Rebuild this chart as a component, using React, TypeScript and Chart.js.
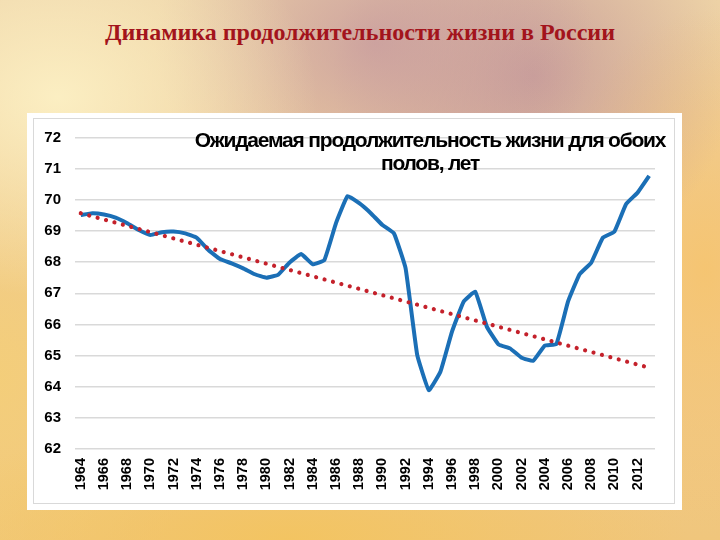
import React, { useEffect, useRef } from "react";
import { Chart, registerables } from "chart.js";

Chart.register(...registerables);

const pageTitle = "Динамика продолжительности жизни в России";
const chartTitleLines = ["Ожидаемая продолжительность жизни для обоих", "полов, лет"];

const years = [
  "1964", "1965", "1966", "1967", "1968", "1969", "1970", "1971", "1972", "1973",
  "1974", "1975", "1976", "1977", "1978", "1979", "1980", "1981", "1982", "1983",
  "1984", "1985", "1986", "1987", "1988", "1989", "1990", "1991", "1992", "1993",
  "1994", "1995", "1996", "1997", "1998", "1999", "2000", "2001", "2002", "2003",
  "2004", "2005", "2006", "2007", "2008", "2009", "2010", "2011", "2012", "2013",
];

const lifeExpectancy = [
  69.51, 69.57, 69.53, 69.43, 69.25, 69.03, 68.87, 68.96, 68.98, 68.92,
  68.78, 68.39, 68.10, 67.96, 67.80, 67.61, 67.50, 67.59, 67.99, 68.26,
  67.93, 68.07, 69.25, 70.12, 69.89, 69.57, 69.19, 68.92, 67.80, 65.02,
  63.89, 64.48, 65.77, 66.73, 67.05, 65.93, 65.36, 65.23, 64.93, 64.83,
  65.32, 65.37, 66.73, 67.61, 67.98, 68.78, 68.98, 69.86, 70.23, 70.77,
];

// Linear trend line endpoints
const trendYears = ["1964", "2013"];
const trendValues = [69.57, 64.61];

const yMin = 62;
const yMax = 72;

const overlayTitlePlugin = {
  id: "overlayTitle",
  afterDraw(chart: any) {
    const ctx = chart.ctx as CanvasRenderingContext2D;
    ctx.save();
    ctx.fillStyle = "#000000";
    ctx.textAlign = "center";
    ctx.textBaseline = "alphabetic";
    ctx.font = "bold 21px 'Liberation Sans', Arial, sans-serif";
    try {
      (ctx as any).letterSpacing = "-1.2px";
    } catch (e) {}
    const cx = 430;
    ctx.fillText(chartTitleLines[0], cx, 147);
    ctx.fillText(chartTitleLines[1], cx, 170);
    ctx.restore();
  },
};

export default function App() {
  const canvasRef = useRef<HTMLCanvasElement | null>(null);

  useEffect(() => {
    if (!canvasRef.current) return;
    const chart = new Chart(canvasRef.current, {
      type: "line",
      data: {
        labels: years,
        datasets: [
          {
            label: "Тренд",
            data: trendYears.map((y, i) => ({ x: y, y: trendValues[i] })),
            borderColor: "#C4212B",
            borderWidth: 4.2,
            borderDash: [0.01, 8.7],
            borderCapStyle: "round",
            pointRadius: 0,
            fill: false,
            order: 0,
          },
          {
            label: "Ожидаемая продолжительность жизни",
            data: lifeExpectancy,
            borderColor: "#1B6FB6",
            borderWidth: 4,
            pointRadius: 0,
            tension: 0.1,
            fill: false,
            order: 1,
          },
        ],
      },
      options: {
        animation: false,
        responsive: false,
        maintainAspectRatio: false,
        layout: {
          padding: { left: 33, right: 65, top: 137.5, bottom: 37 },
        },
        plugins: {
          legend: { display: false },
          title: { display: false },
          tooltip: { enabled: false },
        },
        scales: {
          x: {
            type: "category",
            offset: true,
            grid: { display: false, drawTicks: false },
            border: { display: false },
            ticks: {
              autoSkip: false,
              minRotation: 90,
              maxRotation: 90,
              padding: 9,
              color: "#000000",
              font: { family: "'Liberation Sans', Arial, sans-serif", size: 14.5, weight: "bold" },
              callback: (_v: any, idx: number) => (idx % 2 === 0 ? years[idx] : ""),
            },
            afterFit: (scale: any) => {
              scale.height = 54;
            },
          },
          y: {
            min: yMin,
            max: yMax,
            grid: { color: "#D9D9D9", lineWidth: 1.5, drawTicks: false },
            border: { display: false },
            ticks: {
              stepSize: 1,
              padding: 14,
              color: "#000000",
              font: { family: "'Liberation Sans', Arial, sans-serif", size: 15, weight: "bold" },
            },
            afterFit: (scale: any) => {
              scale.width = 42;
            },
          },
        },
      },
      plugins: [overlayTitlePlugin],
    });
    return () => chart.destroy();
  }, []);

  const bg =
    "radial-gradient(ellipse 260px 200px at 8% 18%, rgba(252,240,196,0.95), rgba(252,240,196,0) 100%)," +
    "radial-gradient(ellipse 220px 180px at 52% 8%, rgba(196,150,158,0.75), rgba(196,150,158,0) 100%)," +
    "radial-gradient(ellipse 200px 200px at 74% 14%, rgba(178,128,150,0.6), rgba(178,128,150,0) 100%)," +
    "radial-gradient(ellipse 160px 260px at 98% 50%, rgba(246,196,110,0.9), rgba(246,196,110,0) 100%)," +
    "radial-gradient(ellipse 400px 120px at 40% 100%, rgba(243,196,96,0.95), rgba(243,196,96,0) 100%)," +
    "radial-gradient(ellipse 200px 300px at 0% 70%, rgba(244,206,120,0.9), rgba(244,206,120,0) 100%)," +
    "linear-gradient(180deg, #EDD2A6 0%, #EFCB95 50%, #F0C67C 100%)";

  return (
    <div
      style={{
        position: "fixed",
        left: 0,
        top: 0,
        width: 720,
        height: 540,
        overflow: "hidden",
        background: bg,
      }}
    >
      <div
        style={{
          position: "absolute",
          left: 0,
          top: 17,
          width: 720,
          textAlign: "center",
          fontFamily: "'Liberation Serif', 'Times New Roman', serif",
          fontWeight: "bold",
          fontSize: 24,
          color: "#A3141C",
          lineHeight: "30px",
        }}
      >
        {pageTitle}
      </div>
      <div
        style={{
          position: "absolute",
          left: 27,
          top: 113,
          width: 655,
          height: 397,
          background: "#FFFFFF",
        }}
      />
      <div
        style={{
          position: "absolute",
          left: 33,
          top: 118,
          width: 640,
          height: 384,
          border: "1px solid #D9D9D9",
        }}
      />
      <canvas
        ref={canvasRef}
        width={720}
        height={540}
        style={{ position: "absolute", left: 0, top: 0, width: 720, height: 540 }}
      />
    </div>
  );
}
